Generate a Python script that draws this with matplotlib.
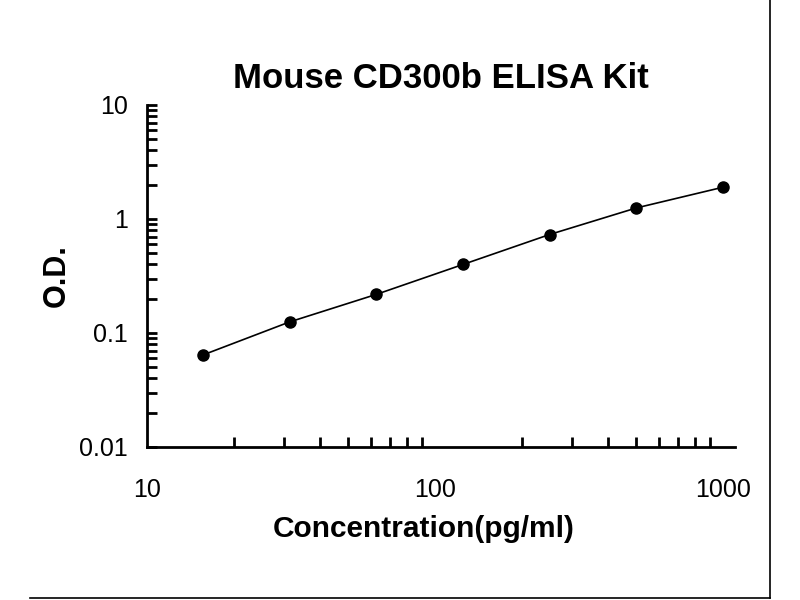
import numpy as np
import matplotlib
matplotlib.use('Agg')
import matplotlib.pyplot as plt
from matplotlib.lines import Line2D
from matplotlib.ticker import LogLocator, NullFormatter

plt.rcParams['font.family'] = ['Liberation Sans', 'DejaVu Sans']

# standard curve data
conc = [15.6, 31.25, 62.5, 125, 250, 500, 1000]
od = [0.064, 0.125, 0.218, 0.399, 0.731, 1.25, 1.90]

x_ticks = [10, 100, 1000]
x_labels = ['10', '100', '1000']
y_ticks = [0.01, 0.1, 1, 10]
y_labels = ['0.01', '0.1', '1', '10']

fig = plt.figure(figsize=(8, 6), dpi=100)
# axes box in pixels: left 147, right 735, top 105, bottom 447
ax = fig.add_axes([147/800, 1 - 447/600, (735-147)/800, (447-105)/600])

ax.set_xscale('log')
ax.set_yscale('log')
ax.set_xlim(10, 10**(1 + 2*588/576))
ax.set_ylim(0.01, 10)

ax.plot(conc, od, color='black', linewidth=1.2, marker='o', markersize=8, clip_on=False)

ax.spines['top'].set_visible(False)
ax.spines['right'].set_visible(False)
ax.spines['left'].set_linewidth(2)
ax.spines['bottom'].set_linewidth(2)

ax.set_xticks(x_ticks)
ax.set_xticklabels(x_labels)
ax.set_yticks(y_ticks)
ax.set_yticklabels(y_labels)
ax.xaxis.set_minor_locator(LogLocator(base=10, subs=np.arange(2, 10)))
ax.yaxis.set_minor_locator(LogLocator(base=10, subs=np.arange(2, 10)))
ax.xaxis.set_minor_formatter(NullFormatter())
ax.yaxis.set_minor_formatter(NullFormatter())

ax.tick_params(axis='both', which='both', direction='in', width=2, color='black')
ax.tick_params(axis='x', which='major', length=0, pad=22, labelsize=18)
ax.tick_params(axis='x', which='minor', length=7)
ax.tick_params(axis='y', which='major', length=7, pad=14, labelsize=18)
ax.tick_params(axis='y', which='minor', length=7)

ax.set_title('Mouse CD300b ELISA Kit', fontsize=25, fontweight='bold', pad=12)
ax.set_xlabel('Concentration(pg/ml)', fontsize=21.5, fontweight='bold', labelpad=10)
ax.xaxis.label.set_x(0.47)
ax.set_ylabel('O.D.', fontsize=22, fontweight='bold', labelpad=5)

# outer frame lines (right and bottom)
fig.add_artist(Line2D([770/800, 770/800], [1 - 598/600, 1.0], color='black', linewidth=1.2))
fig.add_artist(Line2D([30/800, 770/800], [1 - 598/600, 1 - 598/600], color='black', linewidth=1.2))

fig.savefig('out.png', dpi=100)
